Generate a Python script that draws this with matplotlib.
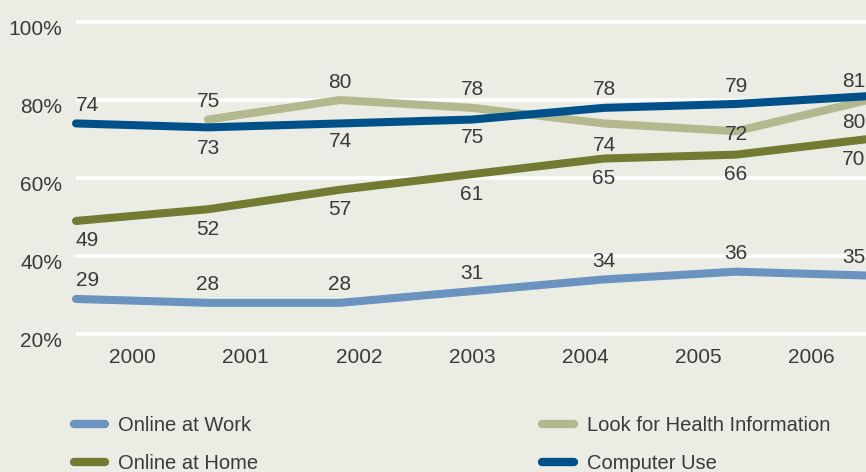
import numpy as np
import matplotlib
matplotlib.use("Agg")
import matplotlib.pyplot as plt
import matplotlib.transforms as mtransforms

# data
years = ["2000", "2001", "2002", "2003", "2004", "2005", "2006"]
online_work = [29, 28, 28, 31, 34, 36, 35]
online_home = [49, 52, 57, 61, 65, 66, 70]
health_info = [np.nan, 75, 80, 78, 74, 72, 80]
computer_use = [74, 73, 74, 75, 78, 79, 81]
y_ticks = [20, 40, 60, 80, 100]

bg = "#ebece3"
txt = "#3a3a3a"
plt.rcParams["font.family"] = ["Liberation Sans", "DejaVu Sans"]

fig = plt.figure(figsize=(8.66, 4.72), dpi=100, facecolor=bg)
ax = fig.add_axes([76 / 866, (472 - 339.9) / 472, (868 - 76) / 866, (339.9 - 16.2) / 472])
ax.set_facecolor(bg)

x = np.arange(len(years))
# (values, label, colour, label offset in pixels)
series = [
    (online_work, "Online at Work", "#6a93c0", [18] * 7),
    (online_home, "Online at Home", "#737b33", [-20] * 7),
    (health_info, "Look for Health Information", "#b3b88e", [0, 18, 18, 18, -22, -3, -22]),
    (computer_use, "Computer Use", "#00508a", [18, -21, -18, -18, 18, 17, 15]),
]

for vals, name, col, offs in series:
    ax.plot(x, vals, color=col, lw=5.8, solid_capstyle="round",
            solid_joinstyle="round", label=name, clip_on=False)
    for i, v in enumerate(vals):
        if np.isnan(v):
            continue
        ha = "left" if i == 0 else "center"
        dx = -14 if i == len(vals) - 1 else 0
        ax.annotate(str(int(v)), (x[i], v), xytext=(dx, offs[i]),
                    textcoords="offset pixels", ha=ha, va="center",
                    fontsize=15, color=txt, zorder=5, annotation_clip=False)

ax.set_xlim(0, 6)
ax.set_ylim(18.5, 101.5)
ax.set_yticks(y_ticks, labels=[f"{t}%" for t in y_ticks])
ax.set_xticks([(i + 0.5) * 6 / 7 for i in range(len(years))], labels=years)
ax.yaxis.grid(True, color="white", lw=2.6)
ax.set_axisbelow(True)
for s in ax.spines.values():
    s.set_visible(False)
ax.tick_params(axis="both", length=0, labelsize=15, labelcolor=txt)
ax.tick_params(axis="y", pad=10)
ax.tick_params(axis="x", pad=6)
shift = mtransforms.ScaledTranslation(0, -5 / 100, fig.dpi_scale_trans)
for lab in ax.get_yticklabels():
    lab.set_transform(lab.get_transform() + shift)

leg = fig.legend(loc="upper left", bbox_to_anchor=(74 / 866, 1 - 416 / 472),
                 ncol=2, frameon=False, fontsize=14.5, labelcolor=txt,
                 handlelength=1.55, handletextpad=0.65, labelspacing=0.95,
                 columnspacing=14.1, borderpad=0, borderaxespad=0)
for h in leg.legend_handles:
    h.set_linewidth(6)
    h.set_solid_capstyle("round")

fig.savefig("out.png", dpi=100, facecolor=bg)
